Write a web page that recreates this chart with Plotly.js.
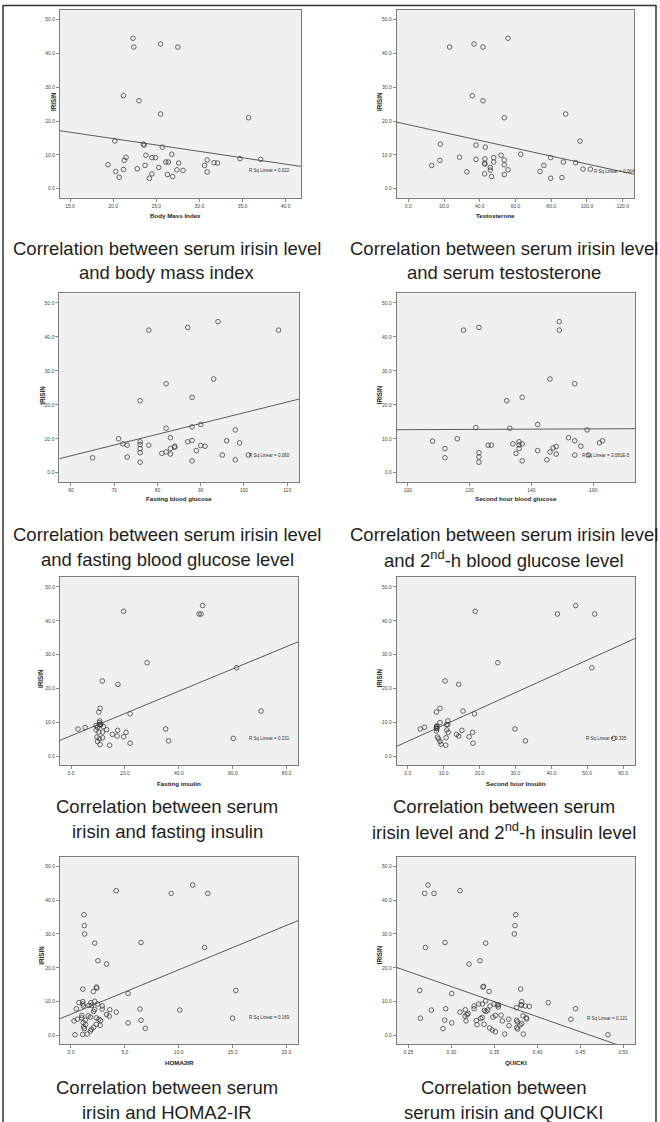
<!DOCTYPE html>
<html><head><meta charset="utf-8">
<script src="https://cdn.plot.ly/plotly-3.0.1.min.js"></script>
<style>html,body{margin:0;padding:0;background:#fff}#chart{width:660px;height:1122px}</style>
</head><body><div id="chart"></div>
<script>
// ---------- data ----------
const yTitle = 'IRISIN';
const xTitles = ['Body Mass Index','Testosterone','Fasting blood glucose','Second hour blood glucose',
  'Fasting insulin','Second hour Insulin','HOMA2IR','QUICKI'];
const rSquared = ['0.022','0.064','0.060','3.081E-5','0.231','0.335','0.169','0.121'];
const fitIntercept = [22.39, 18.94, -14.01, 12.29, 5.99, 4.34, 6.29, 41.14];
const fitSlope = [-0.378, -0.1162, 0.3166, 0.0039, 0.3299, 0.4804, 1.312, -89.0];
const captions = [
  ['Correlation between serum irisin level','and body mass index'],
  ['Correlation between serum irisin level','and serum testosterone'],
  ['Correlation between serum irisin level','and fasting blood glucose level'],
  ['Correlation between serum irisin level','and 2<sup>nd</sup>-h blood glucose level'],
  ['Correlation between serum','irisin and fasting insulin'],
  ['Correlation between serum','irisin level and 2<sup>nd</sup>-h insulin level'],
  ['Correlation between serum','irisin and HOMA2-IR'],
  ['Correlation between','serum irisin and QUICKI']
];

const bmiX = [22.3,22.4,25.5,27.5,21.2,23.0,25.5,35.7,20.2,23.5,23.6,25.7,21.5,23.8,24.5,24.9,26.8,21.3,26.1,26.4,27.6,30.9,31.7,32.1,34.7,37.1,19.4,23.7,30.6,25.3,22.8,21.2,27.4,28.1,20.3,30.9,24.5,26.3,20.7,26.9,24.2];
const bmiY = [44.5,41.9,42.8,41.9,27.5,26.0,22.1,21.0,14.1,13.2,12.9,12.3,9.3,9.9,9.2,9.2,10.2,8.4,7.9,7.9,7.6,8.5,7.7,7.6,8.9,8.7,7.1,6.9,6.9,6.3,5.9,5.7,5.6,5.4,5.1,5.0,4.4,4.2,3.4,3.6,3.1];

const testoX = [23.1,36.8,41.8,55.8,35.8,41.8,53.7,88.1,96.1,17.9,37.9,43.1,51.9,62.9,28.7,47.8,79.7,17.7,37.9,42.9,53.7,47.8,86.8,93.7,42.7,42.9,13.1,53.7,75.9,45.9,45.9,55.8,97.8,101.9,32.8,73.7,42.7,53.7,46.6,79.7,86.0];
const testoY = [41.9,42.8,41.9,44.5,27.5,26.0,21.0,22.1,14.1,13.2,12.9,12.3,9.9,10.2,9.3,9.2,9.2,8.4,8.7,8.8,8.5,7.9,7.9,7.7,7.5,7.3,6.9,7.1,6.9,6.3,5.5,5.6,5.8,5.8,5.0,5.1,4.4,4.2,3.6,3.1,3.3];

const fbgX = [78,87,94,108,93,82,88,76,82,88,90,98,71,83,76,88,87,96,99,72,73,76,78,84,84,90,91,76,83,89,76,82,81,83,65,73,95,101,98,88,76];
const fbgY = [42.0,42.8,44.5,42.0,27.6,26.2,22.2,21.2,13.1,13.5,14.2,12.6,10.0,10.3,9.1,9.5,9.1,9.4,8.8,8.5,8.1,8.3,8.1,7.8,7.5,8.0,7.8,7.1,7.1,6.5,5.9,6.1,5.7,5.5,4.4,4.6,5.2,5.2,3.8,3.5,3.1];

const pbgX = [118,123,149,149,146,154,132,137,122,133,142,158,108,116,152,154,162,163,136,134,137,136,126,127,156,148,147,112,136,123,142,146,135,148,154,112,123,145,137,123,158.4];
const pbgY = [42.0,42.8,44.5,42.0,27.6,26.2,21.2,22.2,13.3,13.1,14.2,12.6,9.3,10.0,10.3,9.4,8.8,9.4,9.1,8.5,8.5,8.2,8.1,8.1,7.8,7.7,7.3,7.1,7.1,5.9,6.5,6.1,5.7,5.5,5.2,4.4,4.6,3.8,3.5,3.1,5.2];

const finsX = [19.5,47.5,48.2,48.8,28.2,61.4,11.6,17.4,70.5,10.8,10.3,21.9,10.6,10.6,10.5,10.9,11.1,9.3,9.8,12.0,2.6,5.2,9.3,13.2,17.3,35.1,10.3,11.7,20.4,15.3,17.1,19.5,9.6,11.7,10.5,60.2,9.8,36.2,10.8,14.3,21.9];
const finsY = [42.8,42.0,42.0,44.5,27.6,26.1,22.2,21.2,13.3,14.1,13.0,12.5,10.4,9.9,9.3,9.2,9.4,9.0,8.5,8.7,8.0,8.4,7.7,7.8,7.6,8.0,7.1,7.1,7.0,6.4,5.9,5.7,5.6,5.4,5.1,5.2,4.3,4.5,3.4,3.2,3.8];

const pinsX = [18.8,41.7,46.8,52.1,25.1,51.3,10.4,14.2,9.0,8.0,15.4,18.6,11.2,9.0,10.8,11.2,8.1,8.1,8.0,8.1,4.7,3.5,10.9,15.1,29.9,8.0,11.3,18.1,13.6,14.2,17.1,8.3,10.7,8.6,9.0,32.8,9.3,10.6,18.2,57.4,8.1];
const pinsY = [42.8,42.0,44.5,42.0,27.6,26.1,22.2,21.2,14.1,13.0,13.3,12.5,10.4,9.9,9.3,9.3,8.9,8.7,8.5,8.2,8.5,8.0,7.7,7.6,8.0,7.4,7.0,7.0,6.4,5.9,5.7,5.6,5.4,5.1,4.3,4.5,3.5,3.2,3.8,5.2,8.1];

const homaX = [4.2,9.3,11.3,12.7,1.2,1.24,1.27,2.2,6.5,12.4,2.5,3.3,1.1,2.35,2.4,2.07,15.3,5.3,0.74,1.1,1.1,1.15,0.5,1.85,2.2,1.67,1.9,2.47,2.9,2.9,2.2,2.1,3.6,4.2,3.3,3.55,6.4,10.1,15.0,1.0,1.6,1.8,2.35,2.6,2.75,0.99,0.6,1.33,0.28,1.14,1.36,2.35,2.7,1.17,1.24,2.1,1.9,1.8,0.37,1.08,1.5,5.3,6.5,6.9];
const homaY = [42.8,42.0,44.5,42.0,35.7,32.5,30.0,27.3,27.5,26.0,22.1,21.1,13.7,14.3,14.0,13.0,13.3,12.4,9.7,10.0,9.3,8.7,7.9,9.7,10.1,8.9,8.9,9.3,8.7,7.8,7.7,7.1,7.6,6.9,6.2,5.7,7.8,7.5,5.1,5.9,5.8,5.4,5.2,4.8,4.4,5.2,4.8,4.5,4.3,3.8,3.2,3.3,3.0,2.5,2.0,2.4,1.8,1.3,0.2,0.3,0.4,3.7,4.5,2.1];

const quickiX = [0.269,0.2729,0.2798,0.310,0.3748,0.374,0.3733,0.2698,0.2926,0.3399,0.3205,0.3333,0.2632,0.3004,0.3368,0.3375,0.3438,0.3806,0.4128,0.4446,0.4391,0.4822,0.264,0.2767,0.2934,0.2903,0.2922,0.3004,0.310,0.3163,0.3159,0.3171,0.3182,0.3194,0.3264,0.3264,0.3318,0.3298,0.3291,0.3341,0.336,0.336,0.3399,0.338,0.3384,0.3403,0.3422,0.345,0.3446,0.3477,0.3496,0.3512,0.3512,0.3484,0.3535,0.3547,0.355,0.3578,0.3593,0.362,0.3667,0.3671,0.3756,0.376,0.376,0.3767,0.3771,0.381,0.3818,0.3814,0.3818,0.3837,0.3833,0.386,0.3872,0.3876,0.3907,0.380];
const quickiY = [42.0,44.5,42.0,42.8,35.7,32.5,30.0,26.0,27.5,27.3,21.1,22.1,13.3,12.4,14.3,14.5,13.0,13.7,9.7,7.9,4.8,0.2,5.1,7.5,7.9,2.0,4.5,3.7,6.9,7.6,5.7,4.3,6.1,6.5,8.7,7.9,9.3,3.2,4.4,5.0,5.3,9.3,10.2,3.3,7.4,7.1,7.5,8.7,2.2,1.6,9.3,1.1,5.9,5.4,9.0,8.4,9.1,6.0,4.3,0.4,4.8,2.9,8.2,4.5,2.3,4.0,1.9,9.1,10.0,8.9,3.5,0.4,5.8,8.7,5.2,4.9,8.6,3.1];

// ---------- layout configuration ----------
const W = 660, H = 1122;
const FONT = 'Liberation Sans, Arial, sans-serif';
const series = [[bmiX,bmiY],[testoX,testoY],[fbgX,fbgY],[pbgX,pbgY],[finsX,finsY],[pinsX,pinsY],[homaX,homaY],[quickiX,quickiY]];
const panelCfg = [
  {box:[60,301,10,197.7],    xr:[13.84,41.78], dt:5,    fmt:'.1f', yt:[53.3,101.7], xt:[175,215.7],  rs:[35.5,5.3]},
  {box:[396.7,634.3,10,197.7],xr:[-6.5,126.5], dt:20,   fmt:'.1f', yt:[379.3,101.7],xt:[496,215.7],  rs:[103,5.1]},
  {box:[59.3,299.3,293.3,481.7],xr:[57.3,112.8],dt:10,  fmt:'d',   yt:[41.7,395],   xt:[179.3,498.3],rs:[100.8,5.1]},
  {box:[396.7,635.3,293.3,481.7],xr:[96.4,173.6],dt:20, fmt:'d',   yt:[379.3,395],  xt:[516,498.3],  rs:[155.7,5.2]},
  {box:[60,298.3,577.3,765], xr:[-4.1,84.3],   dt:20,   fmt:'.1f', yt:[40.7,678.3], xt:[179,783],    rs:[65.1,5.2]},
  {box:[396.7,635.3,577.3,765],xr:[-3.06,63.4],dt:10,   fmt:'.1f', yt:[379.3,678.3],xt:[516,783],    rs:[49.2,5.1]},
  {box:[60,298.3,856.7,1044.4],xr:[-1.02,21.1],dt:5,    fmt:'.1f', yt:[40.7,955],   xt:[179,1062],   rs:[16.3,5.2]},
  {box:[396.7,635.3,856.7,1044.4],xr:[0.2364,0.514],dt:0.05,fmt:'.2f',yt:[379.3,955],xt:[516,1062],  rs:[0.456,5.1]}
];
const yRange = [-2.65, 52.85];
const captionX = [167, 503.5];
const captionRows = [[248,273],[534,559],[806,831],[1087,1112]];

const px = v => v / W, py = v => 1 - v / H;
const traces = [], annotations = [], layout = {
  width: W, height: H, margin:{l:0,r:0,t:0,b:0}, paper_bgcolor:'#ffffff', plot_bgcolor:'#f0f0f0',
  showlegend:false, font:{family:FONT, color:'#333', size:10}
};

panelCfg.forEach((c, i) => {
  const n = i === 0 ? '' : String(i + 1);
  const xa = 'x' + n, ya = 'y' + n;
  const [xs, ys] = series[i];
  traces.push({type:'scatter', mode:'markers', x:xs, y:ys, xaxis:xa, yaxis:ya,
    marker:{symbol:'circle-open', size:4.6, color:'#3a3a3a', line:{width:0.75}}, hoverinfo:'x+y'});
  traces.push({type:'scatter', mode:'lines', x:c.xr.slice(), y:c.xr.map(v => fitIntercept[i] + fitSlope[i]*v),
    xaxis:xa, yaxis:ya, line:{color:'#4a4a4a', width:0.9}, hoverinfo:'skip'});
  const common = {showline:true, mirror:true, linecolor:'#7c7c7c', linewidth:1, showgrid:false, zeroline:false,
    ticks:'outside', ticklen:3, tickwidth:0.7, tickcolor:'#555', tickfont:{size:5, family:FONT, color:'#444'}};
  layout['xaxis' + n] = Object.assign({}, common, {domain:[px(c.box[0]), px(c.box[1])], anchor:ya,
    range:c.xr, dtick:c.dt, tick0:0, tickformat:c.fmt});
  layout['yaxis' + n] = Object.assign({}, common, {domain:[py(c.box[3]), py(c.box[2])], anchor:xa,
    range:yRange, dtick:10, tick0:0, tickformat:'.1f'});
  annotations.push({xref:'paper', yref:'paper', x:px(c.yt[0]), y:py(c.yt[1]), text:'<b>'+yTitle+'</b>',
    textangle:-90, showarrow:false, font:{size:6.3, family:FONT, color:'#222'}, xanchor:'center', yanchor:'middle'});
  annotations.push({xref:'paper', yref:'paper', x:px(c.xt[0]), y:py(c.xt[1]), text:'<b>'+xTitles[i]+'</b>',
    showarrow:false, font:{size:6.2, family:FONT, color:'#222'}, xanchor:'center', yanchor:'middle'});
  annotations.push({xref:xa, yref:ya, x:c.rs[0], y:c.rs[1], text:'R Sq Linear = ' + rSquared[i],
    showarrow:false, font:{size:4.5, family:FONT, color:'#333'}, xanchor:'left', yanchor:'middle'});
  const row = Math.floor(i / 2), col = i % 2;
  captions[i].forEach((t, k) => {
    annotations.push({xref:'paper', yref:'paper', x:px(captionX[col]), y:py(captionRows[row][k]), text:t,
      showarrow:false, font:{size:18.5, family:FONT, color:'#1e1e1e'}, xanchor:'center', yanchor:'middle'});
  });
});
layout.annotations = annotations;
layout.shapes = [
  {type:'line', xref:'paper', yref:'paper', x0:px(3), x1:px(3), y0:py(5), y1:0, line:{color:'#333', width:1.5}},
  {type:'line', xref:'paper', yref:'paper', x0:px(3), x1:px(656), y0:py(5.5), y1:py(5.5), line:{color:'#333', width:1.5}},
  {type:'line', xref:'paper', yref:'paper', x0:px(656), x1:px(656), y0:py(5), y1:0, line:{color:'#333', width:1.5}}
];
Plotly.newPlot('chart', traces, layout, {displayModeBar:false, staticPlot:true});
</script></body></html>
